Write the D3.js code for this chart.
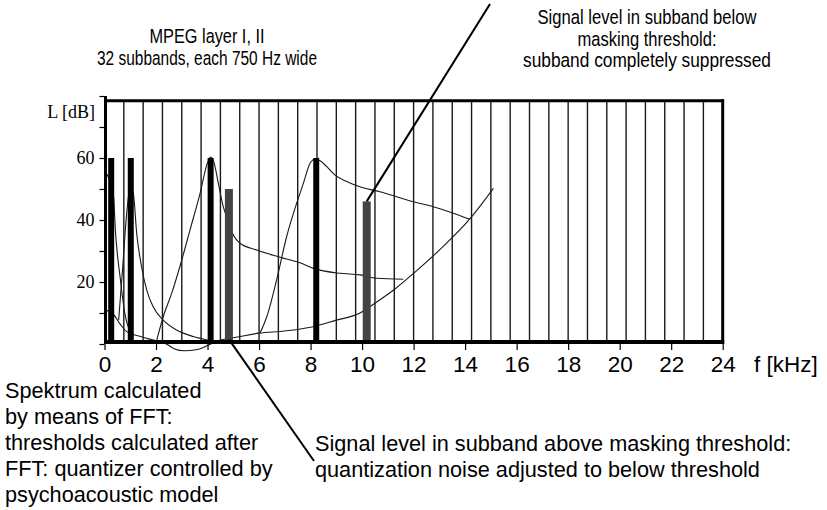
<!DOCTYPE html>
<html><head><meta charset="utf-8">
<script src="https://cdn.jsdelivr.net/npm/d3@7/dist/d3.min.js"></script>
<style>body{margin:0;background:#fff}</style>
</head><body><svg id="c" width="827" height="510"></svg>
<script>
// ---------- data ----------
const subbandWidth = 0.75;          // kHz
const subbandCount = 32;
const xTickValues = [0, 2, 4, 6, 8, 10, 12, 14, 16, 18, 20, 22, 24];
const yTickValues = [0, 10, 20, 30, 40, 50, 60, 70, 80];
const yTickLabels = [20, 40, 60];
const frameTopLevel = 78.5;

// spectral lines (tones) in black
const toneFreqs  = [0.26, 1.02, 4.12, 8.22];
const toneLevels = [60, 60, 60, 60];
// subband signal levels in grey
const bandFreqs  = [4.83, 10.18];
const bandLevels = [50, 46];

// masking thresholds [kHz, dB]
const mask1 = [[0.0,56],[0.2,53],[0.3,51],[0.36,47],[0.42,37],[0.5,29],[0.6,22],[0.7,15],[0.8,9.5],[0.9,6],[1.0,4.2]];
const mask2 = [[0.55,7.7],[0.7,24],[0.85,41],[0.95,48.5],[1.05,50],[1.12,48.6],[1.25,35.7],[1.44,24.9],[1.64,17.4],[1.89,12.0],[2.28,7.7],[2.8,4.5],[3.45,2.4],[4.1,1.1]];
const mask3 = [[2.03,1.3],[2.28,8.8],[2.61,16.4],[3.0,27.1],[3.32,36.8],[3.71,48.6],[4.0,58.5],[4.12,60.3],[4.22,59.4],[4.42,51.8],[4.61,44.3],[4.74,41.1],[4.94,36.2],[5.26,32.5],[5.91,30.3],[6.81,28.0],[7.59,26.2],[8.11,24.4],[9.14,22.8],[9.92,22.3],[10.57,21.2],[11.6,20.9]];
const mask4 = [[6.04,3.6],[6.3,8.8],[6.68,20.6],[7.07,34.6],[7.46,45.4],[7.72,51.8],[7.98,58.3],[8.17,59.6],[8.37,59.1],[8.63,57.2],[8.95,54.5],[9.4,52.4],[9.92,50.7],[10.69,49.1],[11.34,47.5],[11.99,45.9],[12.76,44.3],[13.54,42.2],[14.19,40.2]];
const quietThreshold = [[0.0,11],[0.3,10],[0.6,6.5],[0.86,4],[1.4,2.4],[2.0,1.0],[2.4,0],[2.7,-1.5],[3.1,-2.2],[3.6,-1.8],[4.0,-0.5],[4.5,1.3],[5.0,2.0],[6.0,3.5],[7.0,4.2],[8.0,5.4],[9.0,7.7],[9.9,9.9],[10.4,12.6],[11.3,17.9],[12.0,22.8],[13.0,30.3],[14.2,40.5],[15.1,50.2]];

// texts
const titleLines = ["MPEG layer I, II", "32 subbands, each 750 Hz wide"];
const noteTopLines = ["Signal level in subband below", "masking threshold:", "subband completely suppressed"];
const noteLeftLines = ["Spektrum calculated", "by means of FFT:", "thresholds calculated after", "FFT: quantizer controlled by", "psychoacoustic model"];
const noteRightLines = ["Signal level in subband above masking threshold:", "quantization noise adjusted to below threshold"];
const yAxisTitle = "L [dB]";
const xAxisTitle = "f [kHz]";

// ---------- drawing ----------
const svg = d3.select("#c");
const x = d3.scaleLinear().domain([0, 24]).range([104.5, 722.7]);
const y = d3.scaleLinear().domain([0, 80]).range([344, 96]);
const sans = "'Liberation Sans', Arial, Helvetica, sans-serif";
const narrow = "'Liberation Sans Narrow', 'Arial Narrow', 'Liberation Sans', Arial, sans-serif";
const serif = "'Liberation Serif', 'Times New Roman', serif";

// subband grid
const gridVals = d3.range(1, subbandCount).map(k => k * subbandWidth);
svg.append("g").selectAll("line").data(gridVals).join("line")
  .attr("x1", d => x(d)).attr("x2", d => x(d))
  .attr("y1", y(frameTopLevel)).attr("y2", y(0))
  .attr("stroke", "#1a1a1a").attr("stroke-width", 1.4);

// curves
const line = d3.line().x(d => x(d[0])).y(d => y(d[1])).curve(d3.curveMonotoneX);
svg.append("g").selectAll("path").data([quietThreshold, mask1, mask2, mask3, mask4]).join("path")
  .attr("d", line).attr("fill", "none").attr("stroke", "#1a1a1a").attr("stroke-width", 1.1);

// bars
const toneW = 6, bandW = 8;
svg.append("g").selectAll("rect").data(toneFreqs).join("rect")
  .attr("x", d => x(d) - toneW / 2).attr("width", toneW)
  .attr("y", (d, i) => y(toneLevels[i])).attr("height", (d, i) => y(0) - y(toneLevels[i]))
  .attr("fill", "#000");
svg.append("g").selectAll("rect").data(bandFreqs).join("rect")
  .attr("x", d => x(d) - bandW / 2).attr("width", bandW)
  .attr("y", (d, i) => y(bandLevels[i])).attr("height", (d, i) => y(0) - y(bandLevels[i]))
  .attr("fill", "#444");

// frame
svg.append("line").attr("x1", x(0)).attr("x2", x(24)).attr("y1", y(frameTopLevel)).attr("y2", y(frameTopLevel))
  .attr("stroke", "#000").attr("stroke-width", 3);
svg.append("line").attr("x1", x(24)).attr("x2", x(24)).attr("y1", y(frameTopLevel) - 1.5).attr("y2", y(0))
  .attr("stroke", "#000").attr("stroke-width", 3);
svg.append("line").attr("x1", x(0) + 1).attr("x2", x(0) + 1).attr("y1", y(80)).attr("y2", y(0))
  .attr("stroke", "#000").attr("stroke-width", 3);
svg.append("line").attr("x1", x(0)).attr("x2", x(24) + 1.5).attr("y1", y(0) - 2).attr("y2", y(0) - 2)
  .attr("stroke", "#000").attr("stroke-width", 4);

// axes
const xAxis = svg.append("g").attr("transform", `translate(0,${y(0)})`)
  .call(d3.axisBottom(x).tickValues(xTickValues).tickSize(6).tickPadding(6).tickFormat(d3.format("d")));
xAxis.select(".domain").remove();
xAxis.selectAll("line").attr("stroke", "#000").attr("stroke-width", 1.2);
xAxis.selectAll("text").attr("font-family", sans).attr("font-size", 22.5).attr("fill", "#000");

const yAxis = svg.append("g").attr("transform", `translate(${x(0)},0)`)
  .call(d3.axisLeft(y).tickValues(yTickValues).tickSize(5).tickPadding(5)
    .tickFormat(d => yTickLabels.includes(d) ? d : ""));
yAxis.select(".domain").remove();
yAxis.selectAll("line").attr("stroke", "#000").attr("stroke-width", 1.2);
yAxis.selectAll("text").attr("font-family", serif).attr("font-size", 18).attr("fill", "#000");

svg.append("text").attr("x", 95).attr("y", 118).attr("text-anchor", "end")
  .attr("font-family", serif).attr("font-size", 18).text(yAxisTitle);
svg.append("text").attr("x", 754).attr("y", 372).attr("text-anchor", "start")
  .attr("font-family", sans).attr("font-size", 22.5).text(xAxisTitle);

// annotations
const titleLens = [115, 220];
svg.append("g").selectAll("text").data(titleLines).join("text")
  .attr("x", 207).attr("y", (d, i) => 43 + i * 22).attr("text-anchor", "middle")
  .attr("font-family", narrow).attr("font-size", 20.5)
  .attr("textLength", (d, i) => titleLens[i]).attr("lengthAdjust", "spacingAndGlyphs").text(d => d);

const topLens = [219, 139, 248];
svg.append("g").selectAll("text").data(noteTopLines).join("text")
  .attr("x", 647).attr("y", (d, i) => 24 + i * 21.7).attr("text-anchor", "middle")
  .attr("font-family", narrow).attr("font-size", 20.5)
  .attr("textLength", (d, i) => topLens[i]).attr("lengthAdjust", "spacingAndGlyphs").text(d => d);

svg.append("g").selectAll("text").data(noteLeftLines).join("text")
  .attr("x", 5).attr("y", (d, i) => 398 + i * 26).attr("text-anchor", "start")
  .attr("font-family", sans).attr("font-size", 21.7).text(d => d);

svg.append("g").selectAll("text").data(noteRightLines).join("text")
  .attr("x", 315).attr("y", (d, i) => 451 + i * 26).attr("text-anchor", "start")
  .attr("font-family", sans).attr("font-size", 21.7).text(d => d);

// leader lines
svg.append("line").attr("x1", 490).attr("y1", 4)
  .attr("x2", x(bandFreqs[1])).attr("y2", y(bandLevels[1]))
  .attr("stroke", "#000").attr("stroke-width", 2);
svg.append("line").attr("x1", x(bandFreqs[0])).attr("y1", y(1.5))
  .attr("x2", 314).attr("y2", 461)
  .attr("stroke", "#000").attr("stroke-width", 2);
</script></body></html>
